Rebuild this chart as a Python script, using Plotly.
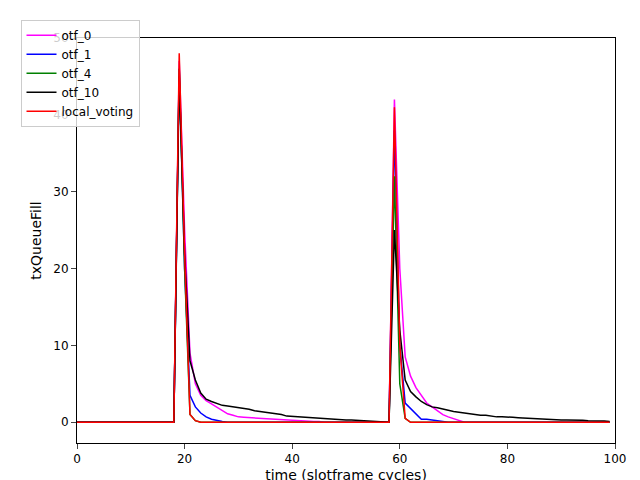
import plotly.graph_objects as go

time = list(range(100))

otf_0 = ([0] * 19 +
         [47, 25, 9, 5, 3.5, 2.8, 2.4, 2.0, 1.5, 1.1, 0.9, 0.7, 0.65, 0.6, 0.55, 0.5, 0.45, 0.4,
          0.35, 0.3, 0.3, 0.25, 0.2, 0.2, 0.15, 0.1, 0.1] +
         [0] * 13 +
         [42, 20, 8.5, 6, 4.5, 3.5, 2.5, 2.0, 1.5, 1.0, 0.7, 0.5, 0.3] +
         [0] * 28)
otf_1 = ([0] * 19 +
         [46, 20, 3.5, 2.0, 1.2, 0.7, 0.4, 0.2, 0.1] +
         [0] * 31 +
         [38, 10, 2.5, 1.8, 1.0, 0.4, 0.4, 0.3, 0.2, 0.1] +
         [0] * 31)
otf_4 = ([0] * 19 + [46, 20, 1.0, 0.2] + [0] * 36 +
         [32, 5, 0.5] + [0] * 38)
otf_10 = ([0] * 19 +
          [45, 22, 8, 5.5, 3.8, 3.0, 2.7, 2.4, 2.2, 2.1, 2.0, 1.9, 1.8, 1.7, 1.5, 1.4, 1.3, 1.2,
           1.1, 1.0, 0.8, 0.75, 0.7, 0.65, 0.6, 0.6, 0.55, 0.5, 0.45, 0.4, 0.35, 0.3, 0.3, 0.25,
           0.2, 0.2, 0.1, 0.1, 0.05, 0.0] +
          [25, 12, 5.5, 4.0, 3.3, 2.7, 2.3, 2.0, 1.9, 1.7, 1.5, 1.4, 1.3, 1.2, 1.1, 1.0, 0.9, 0.9,
           0.8, 0.7, 0.7, 0.7, 0.65, 0.6, 0.55, 0.5, 0.5, 0.45, 0.4, 0.4, 0.35, 0.3, 0.3, 0.3,
           0.25, 0.25, 0.2, 0.2, 0.15, 0.15, 0.1])
local_voting = ([0] * 19 + [48, 22, 1.0, 0.2] + [0] * 36 +
                [41, 10, 0.5] + [0] * 38)

series = [("otf_0", otf_0, "magenta"), ("otf_1", otf_1, "blue"), ("otf_4", otf_4, "green"),
          ("otf_10", otf_10, "black"), ("local_voting", local_voting, "red")]

fig = go.Figure()
for name, vals, color in series:
    fig.add_trace(go.Scatter(x=time, y=vals, mode="lines", name=name,
                             line=dict(color=color, width=1.5)))

fig.update_layout(
    width=640, height=480,
    margin=dict(l=64, r=33, t=25, b=45),
    plot_bgcolor="white", paper_bgcolor="white",
    font=dict(family="DejaVu Sans", size=12, color="black"),
    legend=dict(x=-0.105, y=1.045, xanchor="left", yanchor="top",
                bgcolor="rgba(255,255,255,0.8)", bordercolor="#cccccc", borderwidth=1),
)
fig.update_xaxes(range=[0, 100], dtick=20, showgrid=False, zeroline=False, automargin=False,
                 showline=True, mirror=True, linecolor="black", ticks="outside",
                 title=dict(text="time (slotframe cycles)", standoff=4))
fig.update_yaxes(range=[-2.7, 50], tickvals=[0, 10, 20, 30, 40, 50], showgrid=False,
                 zeroline=False, showline=True, mirror=True, linecolor="black", automargin=False,
                 ticks="outside", title=dict(text="txQueueFill", standoff=8))

fig.write_html("out.html")
